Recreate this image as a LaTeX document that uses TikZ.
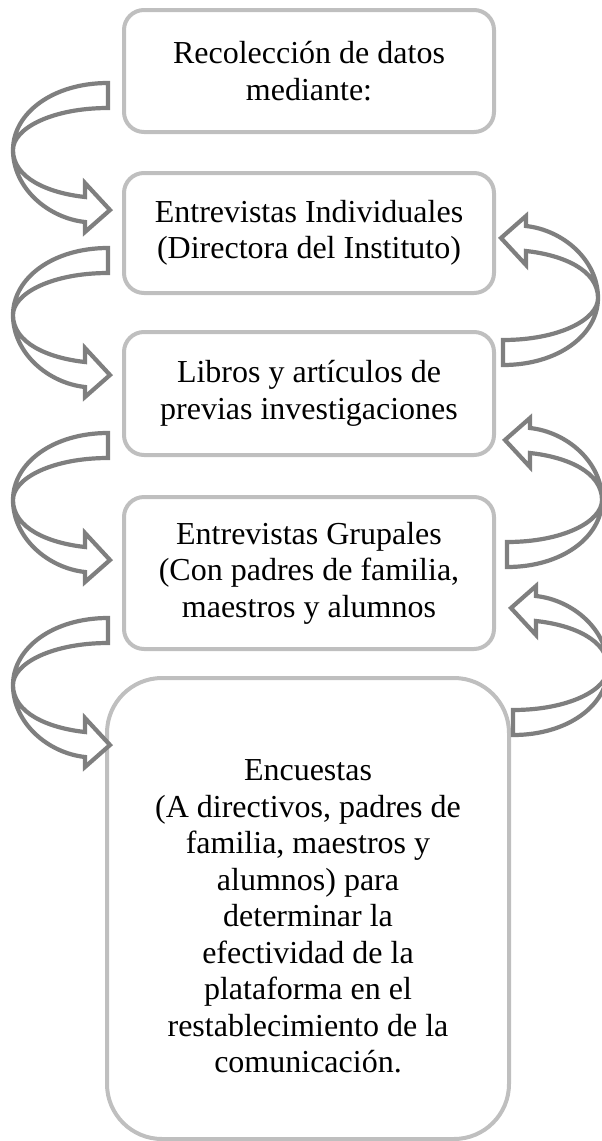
\documentclass[tikz,border=0pt]{standalone}
\usepackage{fontspec}
\setmainfont{Liberation Serif}
\definecolor{boxgray}{HTML}{BFBFBF}
\definecolor{arrowgray}{HTML}{7F7F7F}

\begin{document}
\begin{tikzpicture}[x=1pt, y=-1pt,
  boxtext/.style={align=center, inner sep=0pt,
    font={\fontsize{32pt}{36.5pt}\selectfont}},
  box/.style={boxtext, draw=boxgray, line width=4pt, rounded corners=20pt},
  curvarrow/.pic={
    \draw[draw=arrowgray, fill=white, line width=4.2pt]
      (0,0) .. controls (-55,0) and (-95,30) .. (-95,67)
      .. controls (-95,105) and (-60,135) .. (-23,139)
      -- (-23,149) -- (2,127) -- (-23,100) -- (-23,114)
      .. controls (-60,110) and (-95,95) .. (-95,67)
      .. controls (-95,45) and (-55,25) .. (0,25) -- cycle;
  }]
\useasboundingbox (0,0) rectangle (602,1141);

\node[box, minimum width=370pt, minimum height=122pt] (datos) at (309,71)
  {Recolección de datos\\mediante:};
\node[box, minimum width=370pt, minimum height=120pt] (individuales) at (309,233)
  {Entrevistas Individuales\\(Directora del Instituto)};
\node[box, minimum width=370pt, minimum height=123pt] (libros) at (309,393.5)
  {Libros y artículos de\\previas investigaciones};
\node[box, minimum width=370pt, minimum height=152pt] (grupales) at (309,573)
  {Entrevistas Grupales\\(Con padres de familia,\\maestros y alumnos};
\node[box, rounded corners=55pt, minimum width=402pt, minimum height=461pt] (encuestas) at (308,908.5) {};
\node[boxtext] (encuestastexto) at ([yshift=-8pt]encuestas.center)
  {Encuestas\\(A directivos, padres de\\familia, maestros y\\alumnos) para\\determinar la\\efectividad de la\\plataforma en el\\restablecimiento de la\\comunicación.};

% left arrows, going down
\pic at (108,83) {curvarrow};
\pic at (108,248) {curvarrow};
\pic at (108,433) {curvarrow};
\pic at (108,618) {curvarrow};

% right arrows, going up
\pic[rotate=180] at (503,365) {curvarrow};
\pic[rotate=180] at (507,567) {curvarrow};
\pic[rotate=180] at (513,735) {curvarrow};
\end{tikzpicture}
\end{document}
